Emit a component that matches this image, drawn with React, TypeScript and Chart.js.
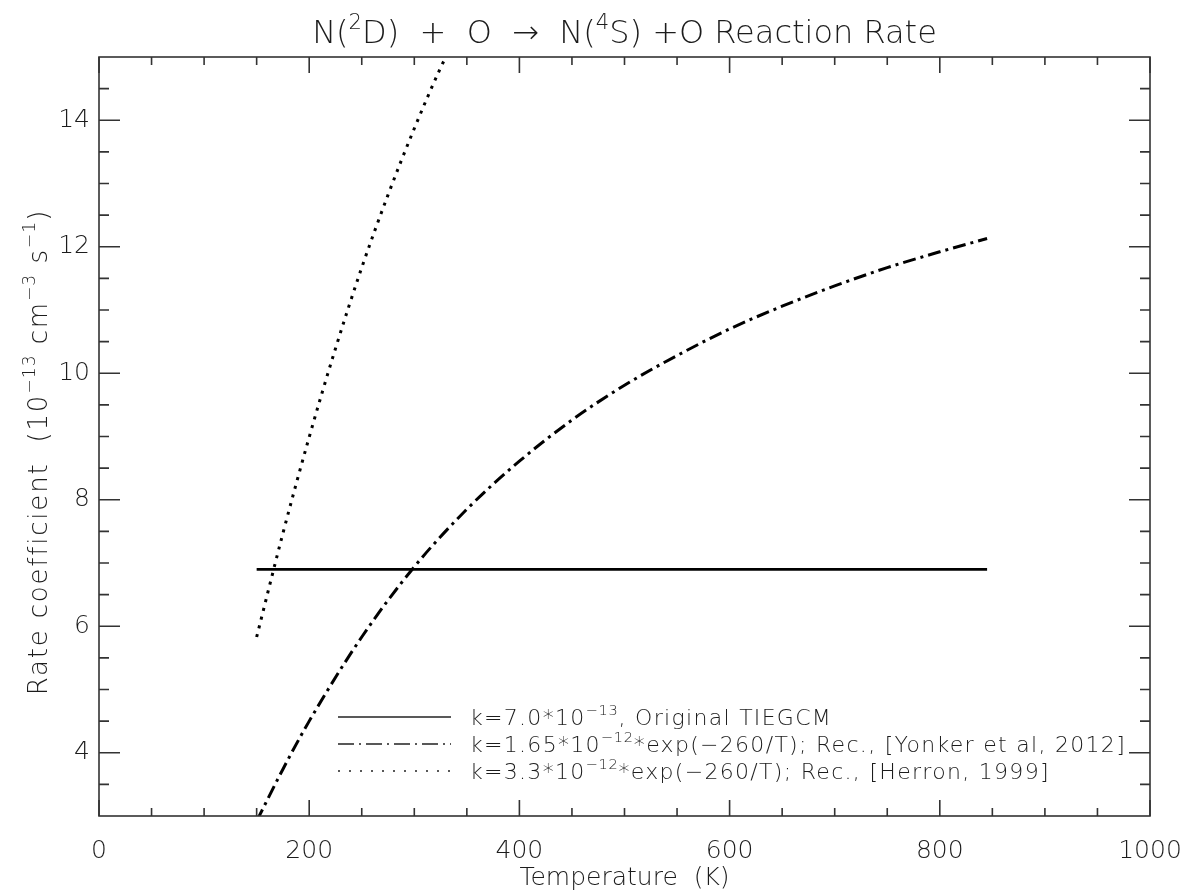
import React, { useEffect, useRef } from "react";
import { Chart, registerables } from "chart.js";

Chart.register(...registerables);

// ---- data ----
const solidT = [150, 845];
const solidK = [6.9, 6.9];

const yonkerT = [150, 175, 200, 250, 300, 350, 400, 450, 500, 550, 600, 650, 700, 750, 800, 845];
const yonkerK = [2.92, 3.74, 4.5, 5.83, 6.94, 7.85, 8.61, 9.26, 9.81, 10.28, 10.7, 11.06, 11.38, 11.67, 11.92, 12.13];

const herronT = [150, 175, 200, 225, 250, 275, 300, 325, 330];
const herronK = [5.83, 7.47, 8.99, 10.39, 11.67, 12.82, 13.87, 14.83, 15.0];

const xTickLabels = [0, 200, 400, 600, 800, 1000];
const yTickLabels = [4, 6, 8, 10, 12, 14];

type Part = [string, number];
const titleParts: Part[] = [["N(", 0], ["2", 1], ["D)  +  O  \u2192  N(", 0], ["4", 1], ["S) +O Reaction Rate", 0]];
const xTitleParts: Part[] = [["Temperature  (K)", 0]];
const yTitleParts: Part[] = [["Rate coefficient  (10", 0], ["\u221213", 1], [" cm", 0], ["\u22123", 1], [" s", 0], ["\u22121", 1], [")", 0]];
const legendRows: Part[][] = [
  [["k=7.0*10", 0], ["\u221213", 1], [", Original TIEGCM", 0]],
  [["k=1.65*10", 0], ["\u221212", 1], ["*exp(\u2212260/T); Rec., [Yonker et al, 2012]", 0]],
  [["k=3.3*10", 0], ["\u221212", 1], ["*exp(\u2212260/T); Rec., [Herron, 1999]", 0]],
];

const FAMILY = '"DejaVu Sans", sans-serif';
const WEIGHT = "200";
const TEXT = "#1c1c1c";
const AXIS = "#333";

function fontOf(size: number) {
  return `${WEIGHT} ${size}px ${FAMILY}`;
}

function setLS(ctx: any, ls: number) {
  if ("letterSpacing" in ctx) ctx.letterSpacing = `${ls}px`;
}

function richWidth(ctx: CanvasRenderingContext2D, parts: Part[], size: number, ls: number) {
  let w = 0;
  for (const [t, s] of parts) {
    ctx.font = fontOf(s ? size * 0.66 : size);
    setLS(ctx, s ? ls * 0.6 : ls);
    w += ctx.measureText(t).width;
  }
  return w;
}

function drawRich(ctx: CanvasRenderingContext2D, parts: Part[], x: number, y: number, size: number, align: "left" | "center", ls = 0) {
  const w = richWidth(ctx, parts, size, ls);
  let cx = align === "center" ? x - w / 2 : x;
  ctx.textAlign = "left";
  ctx.textBaseline = "alphabetic";
  ctx.fillStyle = TEXT;
  for (const [t, s] of parts) {
    ctx.font = fontOf(s ? size * 0.66 : size);
    setLS(ctx, s ? ls * 0.6 : ls);
    ctx.fillText(t, cx, s ? y - size * 0.45 : y);
    cx += ctx.measureText(t).width;
  }
  setLS(ctx, 0);
  return w;
}

const decorPlugin = {
  id: "decor",
  afterDraw(chart: any) {
    const ctx: CanvasRenderingContext2D = chart.ctx;
    const { left, right, top, bottom } = chart.chartArea;
    const xs = chart.scales.x;
    const ys = chart.scales.y;
    ctx.save();
    ctx.strokeStyle = AXIS;
    ctx.lineWidth = 1.6;
    ctx.strokeRect(left, top, right - left, bottom - top);
    ctx.beginPath();
    for (let v = 0; v <= 1000; v += 50) {
      const p = xs.getPixelForValue(v);
      const len = v % 200 === 0 ? 16 : 8;
      ctx.moveTo(p, bottom);
      ctx.lineTo(p, bottom - len);
      ctx.moveTo(p, top);
      ctx.lineTo(p, top + len);
    }
    for (let v = 3.5; v <= 14.5; v += 0.5) {
      const p = ys.getPixelForValue(v);
      const len = Math.abs(v % 2) < 1e-6 ? 21 : 10;
      ctx.moveTo(left, p);
      ctx.lineTo(left + len, p);
      ctx.moveTo(right, p);
      ctx.lineTo(right - len, p);
    }
    ctx.stroke();

    // title
    drawRich(ctx, titleParts, (left + right) / 2, 43, 32, "center");
    // x title
    drawRich(ctx, xTitleParts, (left + right) / 2, 885, 25, "center");
    // y title
    ctx.save();
    ctx.translate(38, 452);
    ctx.rotate(-Math.PI / 2);
    drawRich(ctx, yTitleParts, 0, 9, 26, "center", 1.8);
    ctx.restore();

    // legend
    const rowsY = [717, 744, 771];
    const dashes = [[], [16, 5, 2, 5], [2, 9]];
    for (let i = 0; i < legendRows.length; i++) {
      const y = rowsY[i];
      ctx.beginPath();
      ctx.setLineDash(dashes[i]);
      ctx.lineWidth = 1.3;
      ctx.strokeStyle = "#222";
      ctx.moveTo(338, y);
      ctx.lineTo(451, y);
      ctx.stroke();
      ctx.setLineDash([]);
      drawRich(ctx, legendRows[i], 470, y + 8, 22, "left", 1.3);
    }
    ctx.restore();
  },
};

export default function App() {
  const ref = useRef<HTMLCanvasElement>(null);
  useEffect(() => {
    document.body.style.margin = "0";
    const canvas = ref.current!;
    const toPts = (xs: number[], ys: number[]) => xs.map((x, i) => ({ x, y: ys[i] }));
    const chart = new Chart(canvas, {
      type: "line",
      data: {
        datasets: [
          {
            data: toPts(solidT, solidK),
            borderColor: "#000",
            borderWidth: 2.6,
            pointRadius: 0,
          },
          {
            data: toPts(yonkerT, yonkerK),
            borderColor: "#000",
            borderWidth: 3,
            borderDash: [13, 5, 3, 5],
            pointRadius: 0,
            cubicInterpolationMode: "monotone",
          },
          {
            data: toPts(herronT, herronK),
            borderColor: "#000",
            borderWidth: 3,
            borderDash: [3, 6],
            pointRadius: 0,
            cubicInterpolationMode: "monotone",
          },
        ] as any,
      },
      options: {
        animation: false,
        responsive: false,
        devicePixelRatio: 1,
        layout: { padding: { top: 57, right: 32, left: 0, bottom: 0 } },
        plugins: { legend: { display: false }, title: { display: false }, tooltip: { enabled: false } },
        scales: {
          x: {
            type: "linear",
            min: 0,
            max: 1000,
            grid: { display: false, drawTicks: false },
            border: { display: false },
            afterBuildTicks: (s: any) => {
              s.ticks = xTickLabels.map((v) => ({ value: v }));
            },
            afterFit: (s: any) => {
              s.height = 76;
              s.paddingRight = 0;
              s.paddingLeft = 0;
            },
            ticks: {
              padding: 20,
              maxRotation: 0,
              color: TEXT,
              callback: (v: any) => String(v),
              font: { family: FAMILY, size: 25, weight: WEIGHT as any },
            },
          },
          y: {
            type: "linear",
            min: 3,
            max: 15,
            grid: { display: false, drawTicks: false },
            border: { display: false },
            afterBuildTicks: (s: any) => {
              s.ticks = yTickLabels.map((v) => ({ value: v }));
            },
            afterFit: (s: any) => {
              s.width = 99;
            },
            ticks: {
              padding: 9,
              color: TEXT,
              callback: (v: any) => String(v),
              font: { family: FAMILY, size: 25, weight: WEIGHT as any },
            },
          },
        },
      },
      plugins: [decorPlugin],
    });
    return () => chart.destroy();
  }, []);
  return (
    <div style={{ width: 1182, height: 892 }}>
      <canvas ref={ref} width={1182} height={892} style={{ display: "block", width: 1182, height: 892 }} />
    </div>
  );
}
